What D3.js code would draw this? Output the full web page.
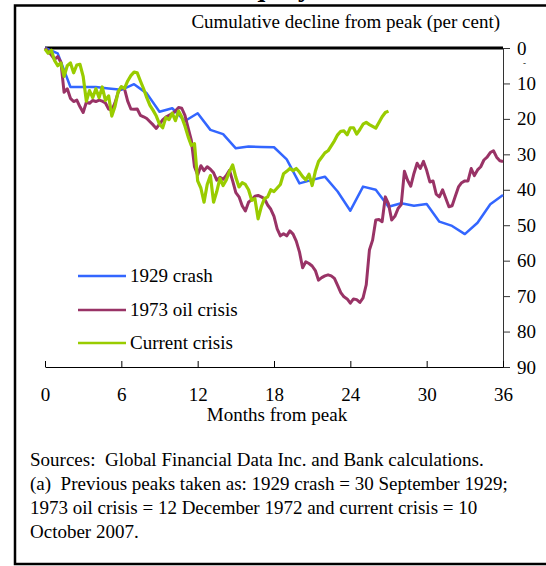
<!DOCTYPE html>
<html>
<head>
<meta charset="utf-8">
<script src="https://cdn.jsdelivr.net/npm/d3@7"></script>
<style>
  html, body { margin: 0; padding: 0; background: #fff; }
  svg { display: block; }
  text { font-family: "Liberation Serif", "Times New Roman", serif; fill: #000; }
</style>
</head>
<body>
<svg id="chart" width="546" height="566"></svg>
<script>
// Months after each market peak
const monthTicks = [0, 6, 12, 18, 24, 30, 36];
const declineTicks = [0, 10, 20, 30, 40, 50, 60, 70, 80, 90];

// 1929 crash: monthly cumulative decline (per cent), months 0..36
const crash1929 = [0, 1.5, 11, 11, 11, 11.4, 11.8, 10.2, 12.8, 18, 17, 20.6, 18.4,
  23.1, 24.3, 28.3, 27.8, 27.9, 28, 31.4, 38.2, 37.2, 36.3, 40.5, 45.9,
  39.1, 40, 44.8, 43.8, 44.5, 44, 49, 50.2, 52.5, 49.3, 44.1, 41.5];

// 1973 oil crisis: cumulative decline every quarter-month, months 0..36
const oilCrisis1973 = [
  0, 1.0, 2.0, 3.2, 2.4, 4.0, 12.5, 11.5, 14.2, 15.1, 14.7, 16.6,
  18.2, 15.3, 15.6, 14.8, 15.1, 14.7, 15.0, 15.5, 17.2, 17.5, 15.5, 12.5,
  11.0, 11.5, 15.0, 17.2, 17.3, 17.2, 19.0, 19.4, 19.9, 20.8, 21.7, 22.7,
  21.5, 20.3, 19.5, 19.0, 18.5, 17.8, 16.8, 17.0, 19.0, 22.5, 26.0, 33.5,
  35.8, 33.2, 34.6, 33.5, 34.2, 35.2, 37.3, 36.5, 37.0, 36.0, 34.5, 37.5,
  40.8, 42.0, 44.5, 46.0, 43.5, 42.8, 41.8, 41.6, 42.0, 42.5, 44.3, 45.5,
  47.5, 51.0, 53.0, 52.4, 53.0, 51.6, 52.5, 54.5, 57.5, 62.0, 60.3, 60.8,
  61.5, 62.8, 65.5, 64.8, 64.3, 64.0, 64.3, 65.0, 67.0, 69.0, 70.2, 70.8,
  72.0, 70.8, 71.0, 71.8, 70.5, 66.8, 57.0, 54.2, 48.5, 48.4, 49.0, 42.0,
  44.0, 48.5, 47.5, 45.3, 44.2, 34.8, 37.3, 39.0, 35.4, 32.5, 34.0, 32.0,
  34.5, 37.8, 37.5, 41.2, 42.0, 40.0, 42.4, 44.8, 44.5, 41.8, 39.2, 38.0,
  37.5, 37.5, 34.0, 36.0, 34.4, 33.5, 31.6, 30.8, 29.5, 29.0, 30.8, 31.8,
  32.0];

// Current crisis: cumulative decline every quarter-month, months 0..27
const currentCrisis = [
  0.3, 1.5, 0.6, 3.5, 5.0, 4.2, 8.0, 5.0, 4.2, 7.0, 4.8, 4.6,
  8.0, 15.0, 12.0, 14.0, 11.5, 14.0, 11.0, 14.8, 13.5, 19.2, 16.5, 12.3,
  10.9, 11.4, 9.3, 7.8, 6.8, 7.0, 9.3, 11.5, 14.0, 16.2, 17.6, 19.2,
  21.5, 22.5, 19.6, 20.2, 18.4, 20.5, 17.8, 19.5, 22.0, 25.0, 27.5, 27.0,
  37.5, 39.5, 43.5, 38.5, 36.0, 43.5, 40.5, 36.8, 38.8, 37.2, 34.8, 33.0,
  36.5, 39.2, 38.0, 38.5, 40.0, 43.0, 42.5, 48.2, 44.8, 42.5, 42.0, 40.0,
  40.5, 39.5, 38.5, 35.5, 34.8, 34.0, 34.6, 34.0, 35.0, 36.3, 37.2, 35.6,
  38.8, 34.8, 32.0, 30.8, 29.6, 29.0, 27.6, 26.2, 24.5, 23.5, 23.4, 24.5,
  22.5, 22.5, 24.3, 23.0, 21.5, 21.0, 21.6, 22.1, 22.6, 21.0, 19.4, 18.2,
  17.8];

const seriesNames = ["1929 crash", "1973 oil crisis", "Current crisis"];
const seriesColors = ["#3366ff", "#993366", "#99cc00"];

const footnotes = [
  "Sources:  Global Financial Data Inc. and Bank calculations.",
  "(a)  Previous peaks taken as: 1929 crash = 30 September 1929;",
  "1973 oil crisis = 12 December 1972 and current crisis = 10",
  "October 2007."
];

const svg = d3.select("#chart");

// outer panel frame
svg.append("rect")
  .attr("x", 15).attr("y", 5.5)
  .attr("width", 560).attr("height", 558.5)
  .attr("fill", "none").attr("stroke", "#000").attr("stroke-width", 2.5);

// panel title (sits above the frame edge)
svg.append("text")
  .attr("x", 231).attr("y", -4)
  .style("font-size", "28px").style("font-weight", "bold")
  .text("Equity");

const x = d3.scaleLinear().domain([0, 36]).range([45, 503]);
const y = d3.scaleLinear().domain([0, 90]).range([48, 367]);

// units label
svg.append("text")
  .attr("x", 500).attr("y", 28)
  .attr("text-anchor", "end")
  .style("font-size", "19px")
  .text("Cumulative decline from peak (per cent)");

// right axis
const yAxis = svg.append("g")
  .attr("transform", `translate(${x(36)},0)`)
  .call(d3.axisRight(y).tickValues(declineTicks).tickSizeInner(7).tickSizeOuter(0).tickPadding(7));
yAxis.select(".domain").attr("stroke", "#333");
yAxis.selectAll(".tick line").attr("stroke", "#333");
yAxis.selectAll(".tick text")
  .style("font-size", "19px")
  .style("font-family", "Liberation Serif, serif");

// minor mark below the zero label
svg.append("text")
  .attr("x", 523).attr("y", 66)
  .style("font-size", "9px")
  .text("-");

// bottom axis, ticks pointing up into the plot
const xAxis = svg.append("g")
  .attr("transform", `translate(0,${y(90)})`)
  .call(d3.axisBottom(x).tickValues(monthTicks).tickSizeInner(-6).tickSizeOuter(0).tickPadding(21));
xAxis.select(".domain").attr("stroke", "#000");
xAxis.selectAll(".tick line").attr("stroke", "#000");
xAxis.selectAll(".tick text")
  .style("font-size", "19px")
  .style("font-family", "Liberation Serif, serif");

svg.append("text")
  .attr("x", x(18) + 3).attr("y", 421)
  .attr("text-anchor", "middle")
  .style("font-size", "19px")
  .text("Months from peak");

// heavy rule along the top of the plot
svg.append("line")
  .attr("x1", x(0)).attr("x2", x(36))
  .attr("y1", y(0)).attr("y2", y(0))
  .attr("stroke", "#000").attr("stroke-width", 3);

// series
const step = 0.25;
const series = [
  crash1929.map((v, i) => [i, v]),
  oilCrisis1973.map((v, i) => [i * step, v]),
  currentCrisis.map((v, i) => [i * step, v])
];
const widths = [2.5, 3, 3.2];

const line = d3.line().x(d => x(d[0])).y(d => y(d[1]));

series.forEach((s, i) => {
  svg.append("path")
    .datum(s)
    .attr("d", line)
    .attr("fill", "none")
    .attr("stroke", seriesColors[i])
    .attr("stroke-width", widths[i])
    .attr("stroke-linejoin", "round");
});

// legend
const legendRows = [276, 310, 343];
seriesNames.forEach((name, i) => {
  svg.append("line")
    .attr("x1", 78).attr("x2", 126)
    .attr("y1", legendRows[i]).attr("y2", legendRows[i])
    .attr("stroke", seriesColors[i]).attr("stroke-width", 2.5);
  svg.append("text")
    .attr("x", 130).attr("y", legendRows[i] + 6)
    .style("font-size", "19px")
    .text(name);
});

// footnotes
footnotes.forEach((t, i) => {
  svg.append("text")
    .attr("x", 30).attr("y", 466 + i * 24)
    .style("font-size", "19px")
    .style("white-space", "pre")
    .text(t);
});
</script>
</body>
</html>
